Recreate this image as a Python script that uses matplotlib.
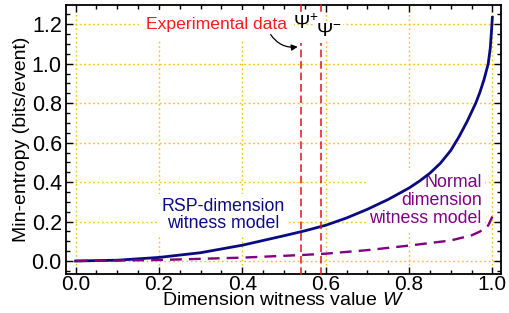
import matplotlib
matplotlib.use('Agg')
import matplotlib.pyplot as plt
from matplotlib.ticker import MultipleLocator

plt.rcParams['font.family'] = ['Liberation Sans', 'DejaVu Sans']
plt.rcParams['mathtext.fontset'] = 'custom'
plt.rcParams['mathtext.it'] = 'Liberation Sans:italic'
plt.rcParams['mathtext.rm'] = 'Liberation Sans'

# RSP-dimension witness model (solid curve)
rsp_w = [0.0, 0.1, 0.2, 0.3, 0.4, 0.5, 0.55, 0.6, 0.65, 0.7, 0.75, 0.8,
         0.825, 0.85, 0.875, 0.9, 0.92, 0.94, 0.96, 0.97, 0.98, 0.99,
         0.995, 0.998, 1.0]
rsp_h = [0.0, 0.004, 0.018, 0.042, 0.08, 0.128, 0.153, 0.181, 0.218, 0.262,
         0.312, 0.37, 0.405, 0.445, 0.495, 0.56, 0.63, 0.71, 0.8, 0.855,
         0.92, 1.0, 1.08, 1.17, 1.235]

# Normal dimension witness model (dashed curve)
norm_w = [0.0, 0.2, 0.4, 0.54, 0.6, 0.7, 0.8, 0.9, 0.95, 0.97, 0.99, 1.0]
norm_h = [0.0, 0.005, 0.017, 0.03, 0.037, 0.055, 0.078, 0.104, 0.13, 0.149, 0.18, 0.225]

# experimental values of W
exp_w = [0.541, 0.590]
exp_top = 1.105

fig = plt.figure(figsize=(5.09, 3.13), dpi=100)
ax = fig.add_axes([0.1297, 0.1246, 0.854, 0.8594])

grid_col = '#FFC000'
for g in [0.0, 0.2, 0.4, 0.6, 0.8, 1.0]:
    ax.axvline(g, color=grid_col, lw=1.0, ls=(0, (1.2, 2)), zorder=0)
for g in [0.0, 0.2, 0.4, 0.6, 0.8, 1.0, 1.2]:
    ax.axhline(g, color=grid_col, lw=1.0, ls=(0, (1.2, 2)), zorder=0)

ax.plot(rsp_w, rsp_h, color='#0a0a80', lw=2.0, zorder=3)
ax.plot(norm_w, norm_h, color='#800080', lw=1.7, ls=(0, (5, 3)), zorder=3)

for w in exp_w:
    ax.plot([w, w], [-0.07, exp_top], color='#e8101a', lw=1.1,
            ls=(0, (5, 2.5)), zorder=4, clip_on=False)
    ax.plot([w, w], [1.27, 1.30], color='#e8101a', lw=1.1, zorder=4, clip_on=False)

ax.set_xlim(-0.023, 1.02)
ax.set_ylim(-0.066, 1.298)

ax.xaxis.set_major_locator(MultipleLocator(0.2))
ax.xaxis.set_minor_locator(MultipleLocator(0.05))
ax.yaxis.set_major_locator(MultipleLocator(0.2))
ax.yaxis.set_minor_locator(MultipleLocator(0.05))
ax.xaxis.set_major_formatter(plt.FuncFormatter(lambda v, p: f'{v:.1f}'))
ax.yaxis.set_major_formatter(plt.FuncFormatter(lambda v, p: f'{v:.1f}'))
ax.tick_params(which='both', direction='in', top=True, right=True,
               labelsize=15.5, width=1.0, pad=3)
ax.tick_params(axis='x', labelsize=15, pad=1)
ax.tick_params(which='major', length=5)
ax.tick_params(which='minor', length=3)
for s in ax.spines.values():
    s.set_linewidth(1.3)

ax.set_xlabel('Dimension witness value $\\mathit{W}$', fontsize=14, labelpad=-1.5)
ax.set_ylabel('Min-entropy (bits/event)', fontsize=14, labelpad=1)

box = dict(facecolor='white', edgecolor='none', pad=2.5)
ax.text(0.353, 0.233, 'RSP-dimension\nwitness model', color='#0a0a80',
        fontsize=12.8, ha='center', va='center', linespacing=1.05,
        bbox=box, zorder=2)
ax.text(0.974, 0.306, 'Normal\ndimension\nwitness model', color='#800080',
        fontsize=12.8, ha='right', va='center', linespacing=1.05,
        bbox=box, zorder=2)
ax.text(0.169, 1.197, 'Experimental data', color='#ff1a1a', fontsize=12.6,
        ha='left', va='center', bbox=dict(facecolor='white', edgecolor='none', pad=5),
        zorder=2)
ax.text(0.552, 1.208, '$\\Psi^{+}$', color='black', fontsize=14,
        ha='center', va='center', zorder=5)
ax.text(0.608, 1.163, '$\\Psi^{-}$', color='black', fontsize=14,
        ha='center', va='center', zorder=5,
        bbox=dict(facecolor='white', edgecolor='none', pad=1))
ax.annotate('', xy=(0.533, 1.086), xytext=(0.468, 1.148),
            arrowprops=dict(arrowstyle='-|>', color='black', lw=0.9,
                            connectionstyle='arc3,rad=0.3',
                            mutation_scale=9, shrinkA=0, shrinkB=0),
            zorder=5)

fig.savefig('out.png', dpi=100)
